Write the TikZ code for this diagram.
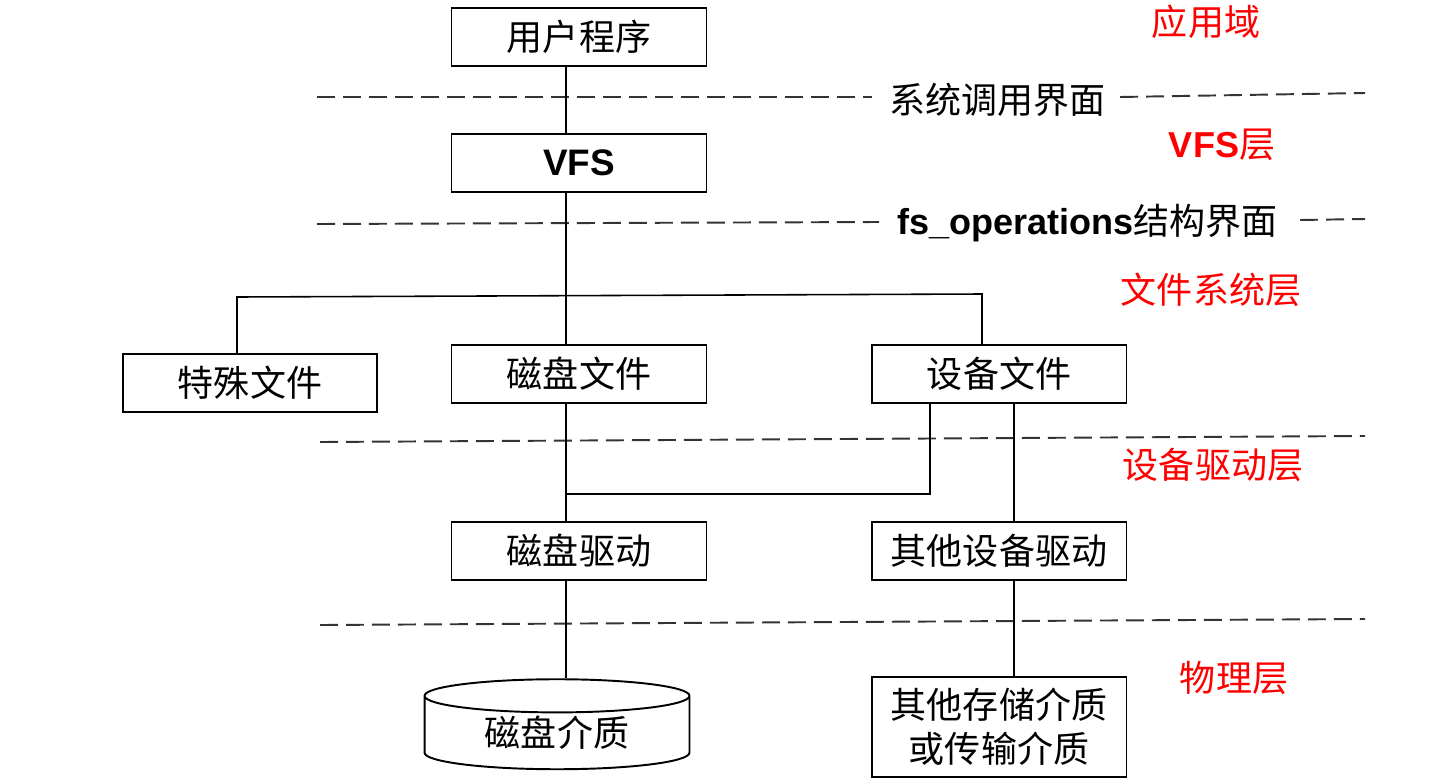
\documentclass[tikz,border=0pt]{standalone}
\usepackage{fontspec}
\setmainfont{Liberation Sans}
\newfontfamily\cjk{Noto Sans CJK SC}
\usepackage{tikz}
\usetikzlibrary{shapes.geometric}

\tikzset{
  layerbox/.style={draw, line width=1.1pt, minimum width=5.1cm, minimum height=1.16cm,
    inner sep=0pt, font=\cjk\fontsize{20.5}{25}\selectfont},
  layername/.style={text=red, font=\cjk\fontsize{20.5}{25}\selectfont},
  iface/.style={font=\cjk\fontsize{20.5}{25}\selectfont, inner sep=0pt},
  sep/.style={line width=1.1pt, black!80, dash pattern=on 0.36cm off 0.16cm},
  link/.style={line width=0.9pt}
}

\begin{document}
\begin{tikzpicture}[x=0.02cm, y=-0.02cm]

		    \useasboundingbox (0,0) rectangle (1435,781);

		    % boxes
		    \node[layerbox] (App) at (579,37) {用户程序};
		    \node[layerbox, font=\bfseries\fontsize{21}{25}\selectfont] (VFS) at (579,163) {VFS};
		    \node[layerbox, minimum width=5.08cm] (Special) at (250,383) {特殊文件};
		    \node[layerbox] (DiskFile) at (579,374) {磁盘文件};
		    \node[layerbox] (DevFile) at (999,374) {设备文件};
		    \node[layerbox] (DiskDrv) at (579,551) {磁盘驱动};
		    \node[layerbox] (OtherDrv) at (999,551) {其他设备驱动};
		    \node[layerbox, minimum height=2cm, align=center] (Media) at (999,727) {其他存储介质\\或传输介质};
		    \node[cylinder, shape border rotate=90, draw, line width=1.1pt, aspect=0.23,
		          minimum width=5.3cm, minimum height=1.8cm, inner sep=0pt,
		          font=\cjk\fontsize{20.5}{25}\selectfont] (Disk) at (557,733) {磁盘介质};

		    % layer names
		    \node[layername] (L1) at (1206,22) {应用域};
		    \node[layername] (L2) at (1222,145) {{\fontspec{Liberation Sans}\bfseries VFS}层};
		    \node[layername] (L3) at (1211,290) {文件系统层};
		    \node[layername] (L4) at (1213,465) {设备驱动层};
		    \node[layername] (L5) at (1234,678) {物理层};

		    % interfaces
		    \node[iface, anchor=west] (SysCall) at (889,100) {系统调用界面};
		    \node[iface, anchor=west] (FsOps) at (897,223) {{\fontspec{Liberation Sans}\bfseries fs\_operations}结构界面};

		    \draw[sep] (317,97) -- (872,97);
		    \draw[sep] (1120,97) -- (1365,93);
		    \draw[sep] (317,224) -- (879,222);
		    \draw[sep] (1300,220) -- (1365,219);
		    \draw[sep] (320,442) -- (1365,436);
		    \draw[sep] (320,625) -- (1365,619);

		    % bus and joints
		    \coordinate (Bus) at (566,296);
		    \coordinate (BusL) at (237,297);
		    \coordinate (BusR) at (982,294);
		    \coordinate (Join) at (930,494);
		    \coordinate (DevX) at (1014,0);

		    \draw[link] (App.south -| Bus) -- (VFS.north -| Bus);
		    \draw[link] (VFS.south -| Bus) -- (DiskFile.north -| Bus);
		    \draw[link] (Special.north -| BusL) -- (BusL) -- (BusR) -- (DevFile.north -| BusR);
		    \draw[link] (DiskFile.south -| Bus) -- (DiskDrv.north -| Bus);
		    \draw[link] (DevFile.south -| Join) -- (Join) -- (Join -| Bus);
		    \draw[link] (DevFile.south -| DevX) -- (OtherDrv.north -| DevX);
		    \draw[link] (DiskDrv.south -| Bus) -- (Disk.top -| Bus);
		    \draw[link] (OtherDrv.south -| DevX) -- (Media.north -| DevX);

	    \end{tikzpicture}
\end{document}
